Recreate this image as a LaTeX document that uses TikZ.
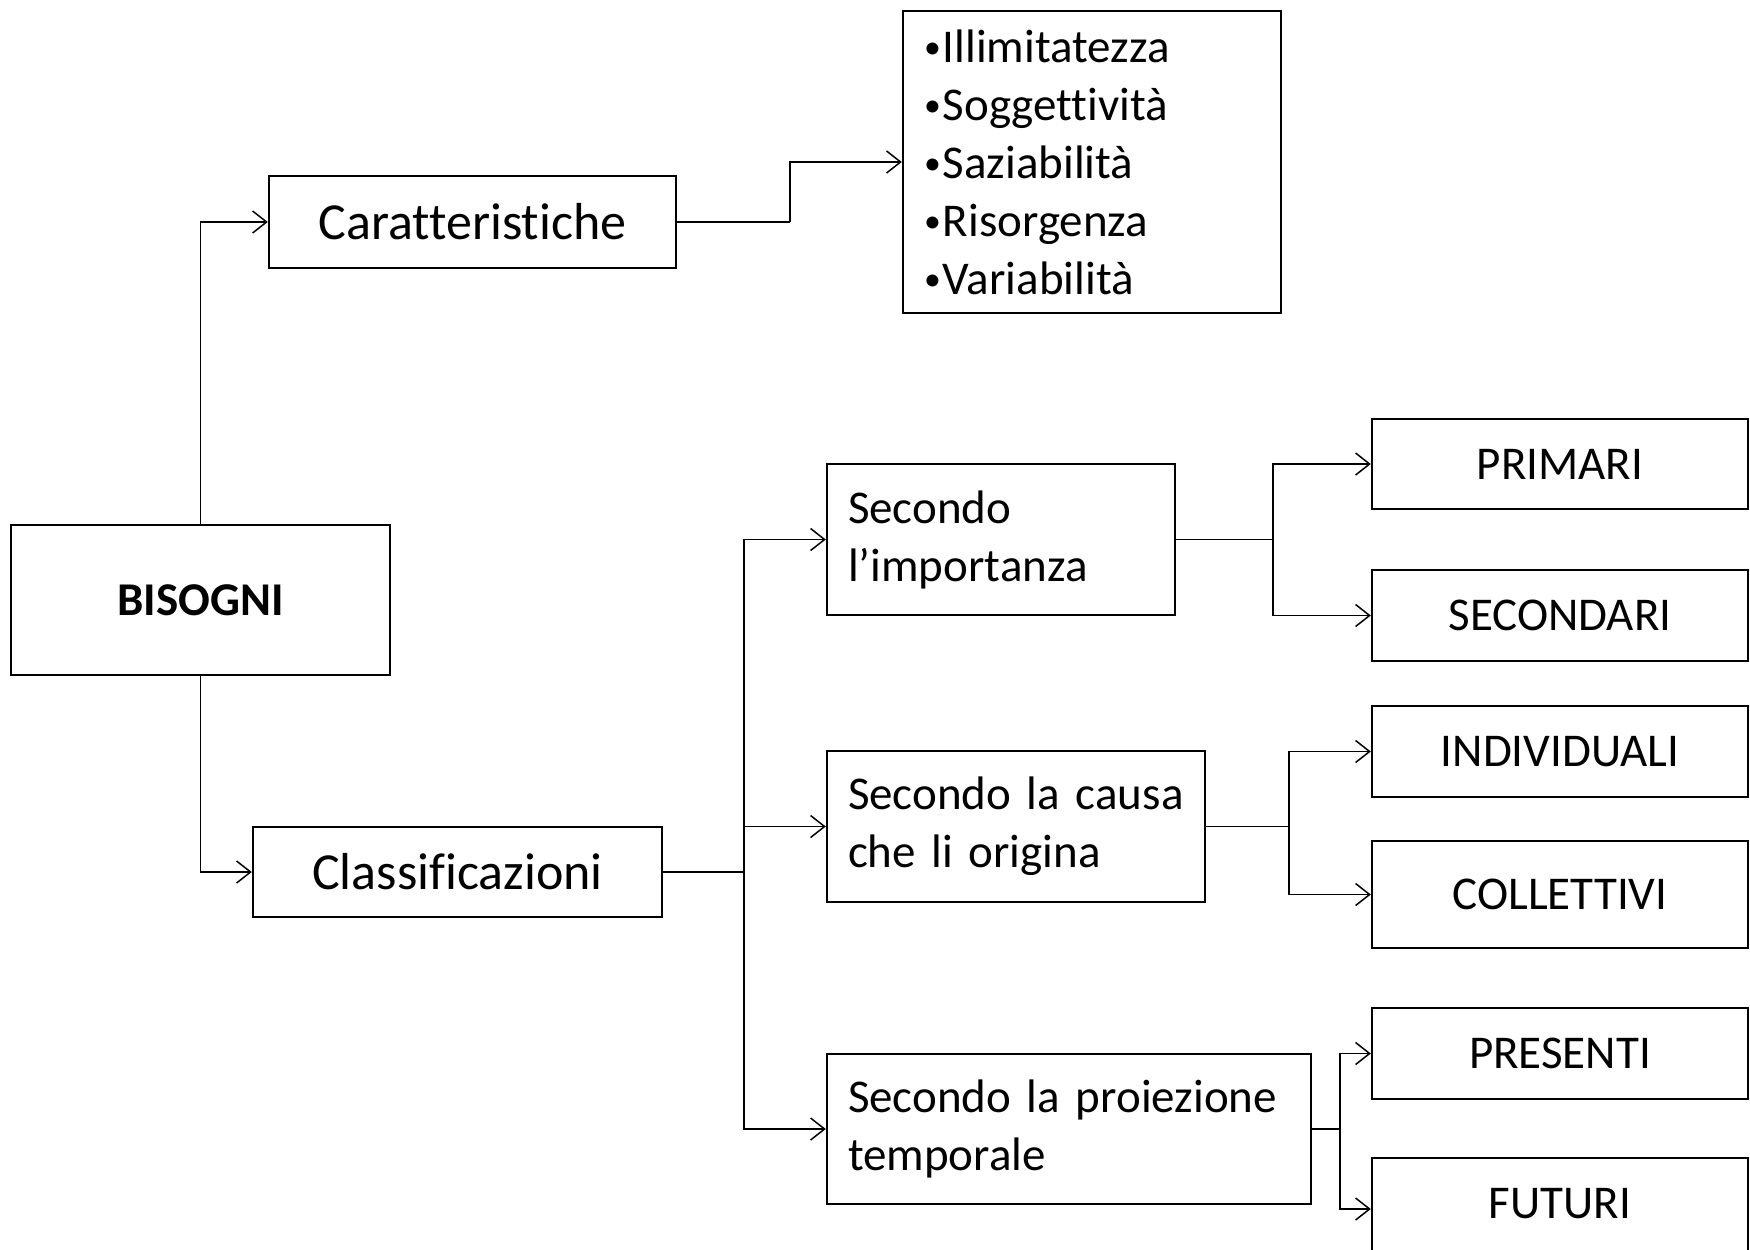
\documentclass[tikz,border=0pt]{standalone}
\usepackage{fontspec}
\setmainfont{Carlito}[Ligatures={NoCommon}]
\usetikzlibrary{arrows.meta}
\newcommand\mybul{\makebox[0.4em][l]{\raisebox{0.08em}{\scalebox{0.72}{•}}}}
\begin{document}
\begin{tikzpicture}[x=0.5pt,y=-0.5pt,
  box/.style={draw=black,line width=1.2pt,inner sep=0pt,fill=white},
  big/.style={font=\fontsize{26}{31}\selectfont},
  norm/.style={font=\fontsize{23.5}{29}\selectfont},
  conn/.style={line width=0.75pt,black},
  arr/.style={conn,-{Straight Barb[length=7pt,width=11pt,line width=0.75pt]}}]
\useasboundingbox (0,0) rectangle (1750,1249);
\fill[white] (0,0) rectangle (1750,1249);
% main nodes
\node[box,norm,minimum width=379pt/2,minimum height=150pt/2] (BIS) at (200.5,600) {\textbf{BISOGNI}};
\node[box,big,minimum width=407pt/2,minimum height=92pt/2] (CAR) at (472.5,222) {Caratteristiche};
\node[box,norm,minimum width=378pt/2,minimum height=302pt/2,text width=336pt/2,align=left] (LIST) at (1092,162) {\mybul Illimitatezza\\\mybul Soggettività\\\mybul Saziabilità\\\mybul Risorgenza\\\mybul Variabilità};
\node[box,big,minimum width=409pt/2,minimum height=90pt/2] (CLA) at (457.5,872) {Classificazioni};
\node[box,norm,minimum width=348pt/2,minimum height=151pt/2,text width=306pt/2,align=left] (IMP) at (1001,539.5) {Secondo\\l’importanza};
\node[box,norm,minimum width=378pt/2,minimum height=151pt/2,text width=336pt/2,align=left] (CAU) at (1016,826.5) {Secondo la causa\\che li origina};
\node[box,norm,minimum width=484pt/2,minimum height=150pt/2,text width=442pt/2,align=left] (PRO) at (1069,1129) {Secondo la proiezione\\temporale};
% leaf nodes
\node[box,norm,minimum width=376pt/2,minimum height=90pt/2] (PRI) at (1560,464) {PRIMARI};
\node[box,norm,minimum width=376pt/2,minimum height=91pt/2] (SEC) at (1560,615.5) {SECONDARI};
\node[box,norm,minimum width=376pt/2,minimum height=91pt/2] (IND) at (1560,751.5) {INDIVIDUALI};
\node[box,norm,minimum width=376pt/2,minimum height=107pt/2] (COL) at (1560,894.5) {COLLETTIVI};
\node[box,norm,minimum width=376pt/2,minimum height=91pt/2] (PRE) at (1560,1053.5) {PRESENTI};
\node[box,norm,minimum width=376pt/2,minimum height=102pt/2,text depth=0pt] (FUT) at (1560,1209) {\raisebox{6pt}{FUTURI}};
% junction coordinates
\coordinate (j1) at (790,0);
\coordinate (j2) at (744,0);
\coordinate (j3) at (1273,0);
\coordinate (j4) at (1289,0);
\coordinate (j5) at (1340,0);
% connectors
\draw[arr] (BIS.north) |- (CAR.west);
\draw[arr] (BIS.south) |- (CLA.west);
\draw[conn] (CAR.east) -- (CAR.east -| j1);
\draw[arr] (CAR.east -| j1) |- (LIST.west);
\draw[conn] (CLA.east) -- (CLA.east -| j2);
\draw[arr] (CLA.east -| j2) |- (IMP.west);
\draw[arr] (CLA.east -| j2) |- (CAU.west);
\draw[arr] (CLA.east -| j2) |- (PRO.west);
\draw[conn] (IMP.east) -- (IMP.east -| j3);
\draw[arr] (IMP.east -| j3) |- (PRI.west);
\draw[arr] (IMP.east -| j3) |- (SEC.west);
\draw[conn] (CAU.east) -- (CAU.east -| j4);
\draw[arr] (CAU.east -| j4) |- (IND.west);
\draw[arr] (CAU.east -| j4) |- (COL.west);
\draw[conn] (PRO.east) -- (PRO.east -| j5);
\draw[arr] (PRO.east -| j5) |- (PRE.west);
\draw[arr] (PRO.east -| j5) |- (FUT.west);
\end{tikzpicture}
\end{document}
